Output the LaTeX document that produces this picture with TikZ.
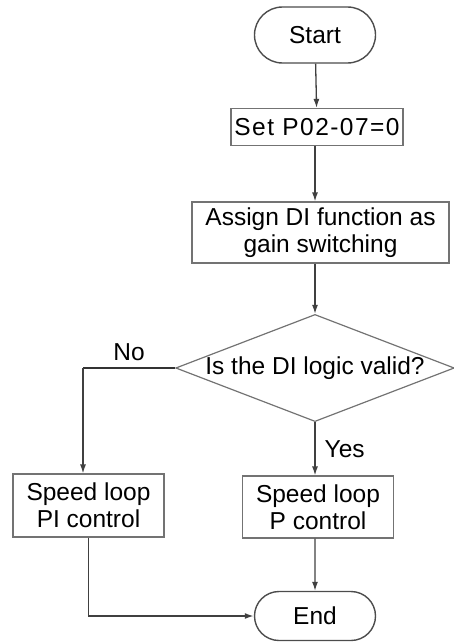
\documentclass[tikz,border=0pt]{standalone}
\usepackage{fontspec}
\setmainfont{Liberation Sans}
\usetikzlibrary{shapes.geometric,shapes.misc,arrows.meta}
\begin{document}
\begin{tikzpicture}[x=1pt,y=-1pt,
    font=\fontsize{24.5}{27}\selectfont,
    term/.style={rounded rectangle,draw=black!70,line width=1.4pt,minimum width=121pt,inner sep=0pt},
    proc/.style={rectangle,draw=black!55,line width=1.2pt,align=center,inner sep=0pt},
    dec/.style={diamond,draw=black!55,line width=1.2pt,aspect=2.6,inner sep=0pt},
    flow/.style={draw=black!75,line width=1.3pt,-{Latex[length=9pt,width=6pt]}},
    lab/.style={inner sep=0pt}]
    \useasboundingbox (0,0) rectangle (453,642);

    %blocchi colonna centrale
    \node[term,minimum height=56pt] (start) at (315,35) {Start};
    \node[proc,minimum width=172pt,minimum height=37pt] (setpar) at (317,127) {\addfontfeature{LetterSpace=6}Set P02-07=0};
    \node[proc,minimum width=257pt,minimum height=61pt] (assign) at (320.5,232.5) {Assign DI function as\\gain switching};
    \node[dec] (valid) at (315,368) {Is the DI logic valid?};
    \node[proc,minimum width=151pt,minimum height=62pt] (pctrl) at (318,507) {Speed loop\\P control};
    \node[term,minimum height=49pt] (stop) at (315,616) {End};

    %blocco a sinistra
    \node[proc,minimum width=151pt,minimum height=63pt] (pictrl) at (88.5,505.5) {Speed loop\\PI control};
    \coordinate (nocorner) at (83,368);

    %freccie
    \draw[flow] (start) -- (setpar);
    \draw[flow] (start.south |- setpar.south) -- (start.south |- assign.north);
    \draw[flow] (valid.north |- assign.south) -- (valid.north);
    \draw[draw=black!80,line width=1.8pt] (valid.west) -- node[lab,above=6pt]{No} (nocorner);
    \draw[flow] (nocorner) -- (nocorner |- pictrl.north);
    \draw[flow] (valid.south) -- node[lab,right=9pt]{Yes} (valid.south |- pctrl.north);
    \draw[flow] (valid.south |- pctrl.south) -- (stop);
    \draw[flow,line width=1.6pt] (pictrl.south) |- (stop.west);

\end{tikzpicture}
\end{document}
